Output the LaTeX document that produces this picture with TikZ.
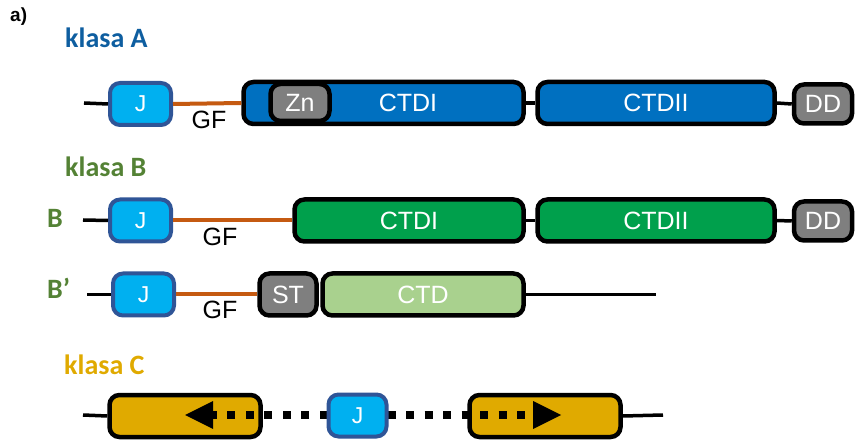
\documentclass[tikz,border=0pt]{standalone}
\usepackage{fontspec}
\newfontfamily\arialf{Liberation Sans}
\newfontfamily\calf{Carlito}
\definecolor{clsA}{RGB}{14,94,160}
\definecolor{clsB}{RGB}{84,130,53}
\definecolor{gold}{RGB}{224,170,0}
\definecolor{domblue}{RGB}{0,112,192}
\definecolor{jfill}{RGB}{0,176,240}
\definecolor{jdraw}{RGB}{47,85,151}
\definecolor{domgray}{RGB}{127,127,127}
\definecolor{domgreen}{RGB}{0,160,76}
\definecolor{ltgreen}{RGB}{169,209,142}
\definecolor{gforange}{RGB}{197,90,17}
\tikzset{
  dom/.style={draw=black, line width=4.5pt, rounded corners=10pt, inner sep=0pt,
    text=white, font=\arialf\fontsize{25}{25}\selectfont, minimum height=42pt},
  jbox/.style={fill=jfill, draw=jdraw, line width=4pt, rounded corners=10pt, inner sep=0pt,
    minimum width=61pt, minimum height=42pt, text=white, font=\arialf\fontsize{23}{23}\selectfont},
  conn/.style={line width=3.5pt, draw=black},
  gfline/.style={line width=4pt, draw=gforange},
  gflabel/.style={font=\arialf\fontsize{25}{25}\selectfont, inner sep=0pt},
  clsname/.style={font=\calf\bfseries\fontsize{28}{28}\selectfont, anchor=base west, inner sep=0pt},
  dots/.style={line width=8pt, draw=black, dash pattern=on 8pt off 10.5pt},
}
\begin{document}
\begin{tikzpicture}[x=1pt,y=-1pt]
\useasboundingbox (0,0) rectangle (856,443);

% panel tag and class headings
\node[anchor=base west, inner sep=0pt, font=\arialf\bfseries\fontsize{19}{19}\selectfont] (tag) at (10,22) {a)};
\node[clsname, text=clsA] (hA) at (65,48) {klasa A};
\node[clsname, text=clsB] (hB) at (65,177) {klasa B};
\node[clsname, text=gold] (hC) at (64,374) {klasa C};
\node[clsname, text=clsB] (lB) at (47,228) {B};
\node[clsname, text=clsB] (lBp) at (47,299) {B’};

% ---- class A ----
\coordinate (sA) at (84,103);
\node[jbox] (jA) at (140.5,104) {J};
\node[dom, fill=domblue, minimum width=280pt] (ctdiA) at (383.5,103) {};
\node[dom, fill=domgray, minimum width=59pt, minimum height=37pt] (zn) at (300,102.5) {Zn};
\node[inner sep=0pt, text=white, font=\arialf\fontsize{25}{25}\selectfont] (ctdiAt) at (408,103) {CTDI};
\node[dom, fill=domblue, minimum width=237pt] (ctdiiA) at (656,103) {CTDII};
\node[dom, fill=domgray, minimum width=58pt, minimum height=39pt] (ddA) at (823,104) {DD};
\draw[conn] (sA) -- (jA.west);
\draw[gfline] (jA.east) -- (ctdiA.west);
\draw[conn] (ctdiA.east) -- (ctdiiA.west);
\draw[conn] (ctdiiA.east) -- (ddA.west);
\node[gflabel] (gfA) at (209,120) {GF};

% ---- class B ----
\coordinate (sB) at (83,220);
\node[jbox] (jB) at (140.5,220.5) {J};
\node[dom, fill=domgreen, minimum width=229pt] (ctdiB) at (409,220.5) {CTDI};
\node[dom, fill=domgreen, minimum width=237pt] (ctdiiB) at (656,220.5) {CTDII};
\node[dom, fill=domgray, minimum width=58pt, minimum height=39pt] (ddB) at (823,221) {DD};
\draw[conn] (sB) -- (jB.west);
\draw[gfline] (jB.east) -- (ctdiB.west);
\draw[conn] (ctdiB.east) -- (ctdiiB.west);
\draw[conn] (ctdiiB.east) -- (ddB.west);
\node[gflabel] (gfB) at (220,237) {GF};

% ---- class B' ----
\coordinate (sBp) at (87,294.5);
\coordinate (eBp) at (656,294.5);
\node[jbox] (jBp) at (143.5,294.5) {J};
\node[dom, fill=domgray, minimum width=57pt] (st) at (288,294.5) {ST};
\node[dom, fill=ltgreen, minimum width=201pt] (ctd) at (423,294.5) {CTD};
\draw[conn] (sBp) -- (jBp.west);
\draw[gfline] (jBp.east) -- (st.west);
\draw[conn] (ctd.east) -- (eBp);
\node[gflabel] (gfBp) at (220,310) {GF};

% ---- class C ----
\coordinate (sC) at (83,415);
\coordinate (eC) at (663,415);
\node[dom, fill=gold, minimum width=151pt] (boxL) at (185,416) {};
\node[dom, fill=gold, minimum width=151pt] (boxR) at (545,416) {};
\draw[conn] (sC) -- (boxL.west);
\draw[conn] (boxR.east) -- (eC);
\coordinate (jC) at (357.5,415.5);
\coordinate (baseL) at (213,415);
\coordinate (tipL) at (185,415);
\coordinate (baseR) at (533,415);
\coordinate (tipR) at (561,415);
\draw[dots] (jC) ++(-30,-0.5) -- (baseL);
\draw[dots] (jC) ++(30,-0.5) -- (baseR);
\fill[black] (tipL) -- ([yshift=-14pt]baseL) -- ([yshift=14pt]baseL) -- cycle;
\fill[black] (tipR) -- ([yshift=-14pt]baseR) -- ([yshift=14pt]baseR) -- cycle;
\node[jbox, minimum width=58pt] (jCn) at (jC) {J};
\end{tikzpicture}
\end{document}
